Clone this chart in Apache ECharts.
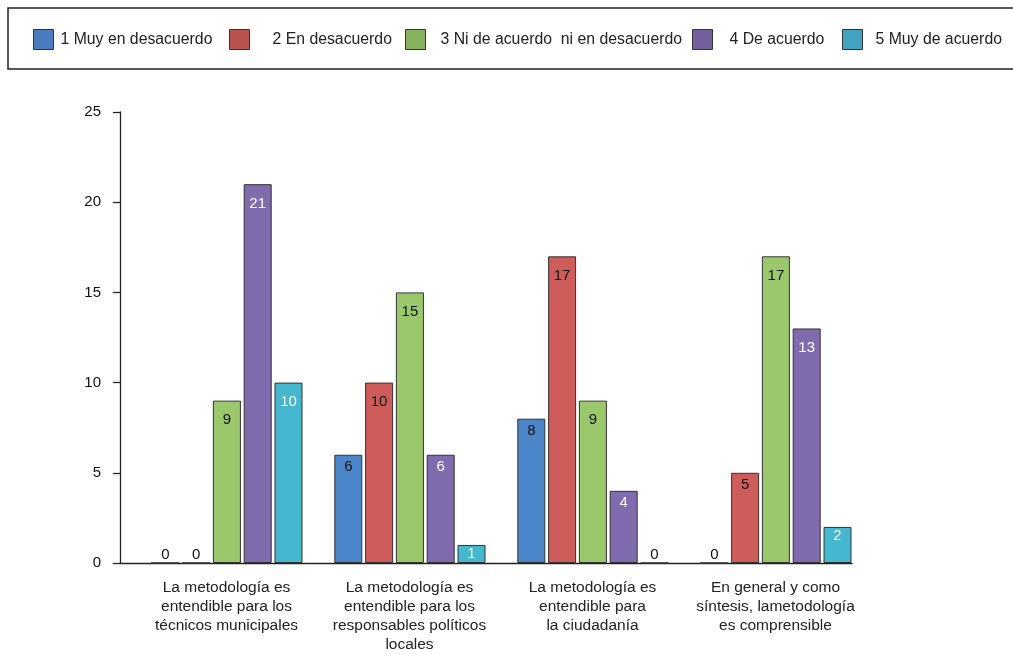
<!DOCTYPE html>
<html>
<head>
<meta charset="utf-8">
<script src="https://cdn.jsdelivr.net/npm/echarts@6/dist/echarts.min.js"></script>
<style>
  html, body { margin: 0; padding: 0; background: #ffffff; }
  #chart { width: 1013px; height: 654px; }
</style>
</head>
<body>
<div id="chart"></div>
<script>
// Survey statements (x categories)
const categories = [
  'La metodología es\nentendible para los\ntécnicos municipales',
  'La metodología es\nentendible para los\nresponsables políticos\nlocales',
  'La metodología es\nentendible para\nla ciudadanía',
  'En general y como\nsíntesis, lametodología\nes comprensible'
];

// Answer levels
const seriesNames = [
  '1 Muy en desacuerdo',
  '2 En desacuerdo',
  '3 Ni de acuerdo  ni en desacuerdo',
  '4 De acuerdo',
  '5 Muy de acuerdo'
];

// Counts per answer level, one value per statement
const muyDesacuerdo = [0, 6, 8, 0];
const desacuerdo    = [0, 10, 17, 5];
const niNi          = [9, 15, 9, 17];
const deAcuerdo     = [21, 6, 4, 13];
const muyDeAcuerdo  = [10, 1, 0, 2];

// Y-axis ticks
const yTicks = [0, 5, 10, 15, 20, 25];

const values = [muyDesacuerdo, desacuerdo, niNi, deAcuerdo, muyDeAcuerdo];
const barColors = ['#4A86C8', '#CD5C5A', '#9BC86B', '#806BAF', '#45B7CF'];
const legendColors = ['#4A7BBF', '#B9534F', '#88B25D', '#75609D', '#41A3C0'];
const labelColors = ['#111', '#111', '#111', '#fff', '#fff'];
const legendLeft = [28, 224, 400, 687, 837];
const legendTextPad = [2, 18, 10, 12, 8];

function itemLabel(v) {
  if (v === 0) return { position: 'top', distance: 0, color: '#111' };
  return { distance: v < 3 ? 1 : (v <= 8 ? 5 : 12) };
}

const series = [
  // empty leading slot in each category group
  { name: '_lead', type: 'bar', data: [], barWidth: 28, barGap: '10%' }
].concat(values.map((arr, i) => ({
  name: seriesNames[i],
  type: 'bar',
  barWidth: 28,
  barGap: '10%',
  itemStyle: { color: barColors[i], borderColor: '#333', borderWidth: 1 },
  label: {
    show: true,
    position: 'insideTop',
    color: labelColors[i],
    fontSize: 15,
    fontFamily: 'Liberation Sans, Arial, sans-serif'
  },
  data: arr.map(v => ({ value: v, label: itemLabel(v) }))
})));

const legends = seriesNames.map((n, i) => ({
  data: [n],
  left: legendLeft[i],
  top: 24,
  orient: 'horizontal',
  icon: 'rect',
  itemWidth: 20,
  itemHeight: 20,
  selectedMode: false,
  itemStyle: { color: legendColors[i], borderColor: '#333', borderWidth: 1 },
  textStyle: {
    fontSize: 15.8,
    color: '#222',
    fontFamily: 'Liberation Sans, Arial, sans-serif',
    padding: [0, 0, 0, legendTextPad[i]]
  }
}));

const chart = echarts.init(document.getElementById('chart'), null, { renderer: 'canvas' });
chart.setOption({
  backgroundColor: '#ffffff',
  animation: false,
  textStyle: { fontFamily: 'Liberation Sans, Arial, sans-serif' },
  graphic: [{
    type: 'rect',
    shape: { x: 8, y: 8, width: 1020, height: 61 },
    style: { fill: 'none', stroke: '#222', lineWidth: 1.5 },
    z: 0
  }],
  legend: legends,
  grid: { left: 120, right: 161, top: 112, bottom: 89, containLabel: false },
  xAxis: {
    type: 'category',
    data: categories,
    axisLine: { show: true, lineStyle: { color: '#222', width: 1.3 } },
    axisTick: { show: false },
    axisLabel: {
      interval: 0,
      fontSize: 15.5,
      lineHeight: 19,
      color: '#222',
      margin: 15,
      padding: [0, 0, 0, 30]
    }
  },
  yAxis: {
    type: 'value',
    min: yTicks[0],
    max: yTicks[yTicks.length - 1],
    interval: yTicks[1] - yTicks[0],
    axisLine: { show: true, lineStyle: { color: '#222', width: 1.3 } },
    axisTick: { show: true, length: 7, lineStyle: { color: '#222', width: 1.3 } },
    axisLabel: { fontSize: 15, color: '#111', margin: 19 },
    splitLine: { show: false }
  },
  series: series
});
</script>
</body>
</html>
